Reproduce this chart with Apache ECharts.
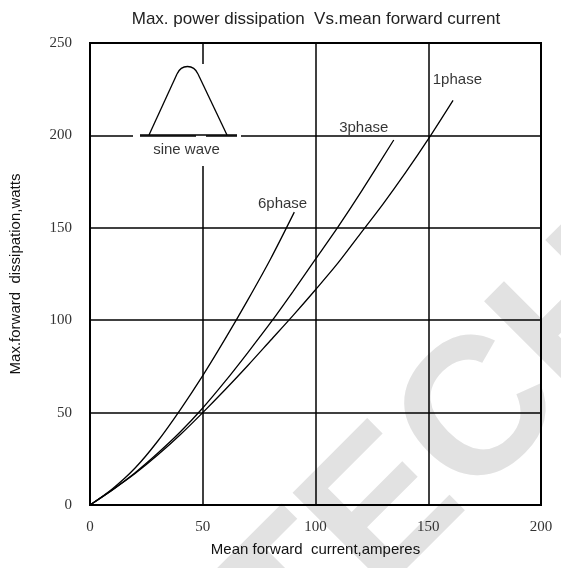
<!DOCTYPE html>
<html>
<head>
<meta charset="utf-8">
<script src="https://cdn.jsdelivr.net/npm/echarts@6/dist/echarts.min.js"></script>
<style>
  html, body { margin: 0; padding: 0; background: #fff; }
  #main { width: 561px; height: 568px; }
</style>
</head>
<body>
<div id="main"></div>
<script>
// curves: [current A, dissipation W]
var phase1 = [[0,0],[10,8.2],[20,17],[30,27],[40,38],[50,50],[60,62.5],[70,75.5],[80,89],[90,102.5],[100,116.5],[110,131],[120,147],[130,163],[140,180],[150,198],[161,219]];
var phase3 = [[0,0],[10,8.3],[20,17.5],[30,28],[40,39.5],[50,52.5],[60,67],[70,82.5],[80,98.5],[90,115.5],[100,133],[110,150.5],[120,169],[134.7,197.5]];
var phase6 = [[0,0],[10,8.8],[20,20],[30,34.5],[40,51.5],[50,70],[60,90],[70,111],[80,133],[90.6,158.5]];
// curve labels, [x at left edge, y at middle, text]
var curveLabels = [[152,230,'1phase'],[110.5,204,'3phase'],[74.5,163,'6phase']];
var sineLabel = [[42.8,192,'sine wave']];
var xTicks = [0, 50, 100, 150, 200];
var yTicks = [0, 50, 100, 150, 200, 250];

var chart = echarts.init(document.getElementById('main'));

var serif = "'Liberation Serif', 'DejaVu Serif', serif";
var sans = "'Liberation Sans', Arial, sans-serif";
var curveStyle = { color: '#000', width: 1.3 };

chart.setOption({
  animation: false,
  title: {
    text: 'Max. power dissipation  Vs.mean forward current',
    left: 311, top: 6, textAlign: 'center',
    textStyle: { fontFamily: sans, fontSize: 17, fontWeight: 'normal', color: '#222' }
  },
  grid: { left: 88, right: 20, top: 43, bottom: 63, show: true, borderColor: '#000', borderWidth: 2 },
  xAxis: {
    type: 'value', min: xTicks[0], max: xTicks[xTicks.length - 1], interval: 50,
    name: 'Mean forward  current,amperes', nameLocation: 'middle', nameGap: 37,
    nameTextStyle: { fontFamily: sans, fontSize: 15, color: '#111' },
    axisLine: { lineStyle: { color: '#000', width: 2 } },
    axisTick: { show: false },
    axisLabel: { margin: 15, fontFamily: serif, fontSize: 15, color: '#333' },
    splitLine: { lineStyle: { color: '#000', width: 1.5 } }
  },
  yAxis: {
    type: 'value', min: yTicks[0], max: yTicks[yTicks.length - 1], interval: 50,
    name: 'Max.forward  dissipation,watts', nameLocation: 'middle', nameGap: 67,
    nameTextStyle: { fontFamily: sans, fontSize: 15, color: '#111' },
    axisLine: { lineStyle: { color: '#000', width: 2 } },
    axisTick: { show: false },
    axisLabel: { margin: 18, fontFamily: serif, fontSize: 15, color: '#333' },
    splitLine: { lineStyle: { color: '#000', width: 1.5 } }
  },
  graphic: [
    // faint watermark behind the plot
    {
      type: 'text', z: -10, x: 325, y: 712, rotation: Math.PI / 4,
      style: { text: 'TECH', font: "bold 195px 'Liberation Sans'", fill: '#e2e2e2', textVerticalAlign: 'bottom' }
    },
    // gaps in the grid around the sine wave sketch
    { type: 'rect', z: 5, shape: { x: 133, y: 132, width: 7, height: 6 }, style: { fill: '#fff' } },
    { type: 'rect', z: 5, shape: { x: 237, y: 132, width: 4, height: 6 }, style: { fill: '#fff' } },
    { type: 'rect', z: 5, shape: { x: 196, y: 64, width: 10, height: 102 }, style: { fill: '#fff' } },
    { type: 'line', z: 6, shape: { x1: 140, y1: 135, x2: 237, y2: 135 }, style: { stroke: '#000', lineWidth: 1.5 } },
    { type: 'polyline', z: 6, shape: { points: [[149, 135], [177, 74]] }, style: { fill: null, stroke: '#000', lineWidth: 1.3 } },
    { type: 'polyline', z: 6, shape: { points: [[198, 74], [227, 135]] }, style: { fill: null, stroke: '#000', lineWidth: 1.3 } },
    {
      type: 'bezierCurve', z: 6,
      shape: { x1: 177, y1: 74, cpx1: 181.5, cpy1: 64, cpx2: 193.5, cpy2: 64, x2: 198, y2: 74 },
      style: { fill: null, stroke: '#000', lineWidth: 1.3 }
    }
  ],
  series: [
    { name: '1phase', type: 'line', data: phase1, smooth: 0.3, symbol: 'none', lineStyle: curveStyle, z: 3 },
    { name: '3phase', type: 'line', data: phase3, smooth: 0.3, symbol: 'none', lineStyle: curveStyle, z: 3 },
    { name: '6phase', type: 'line', data: phase6, smooth: 0.3, symbol: 'none', lineStyle: curveStyle, z: 3 },
    {
      type: 'scatter', data: curveLabels, symbolSize: 0, z: 10, silent: true,
      label: {
        show: true, position: 'inside', align: 'left',
        formatter: function (p) { return p.data[2]; },
        fontFamily: sans, fontSize: 15, color: '#000'
      }
    },
    {
      type: 'scatter', data: sineLabel, symbolSize: 0, z: 10, silent: true,
      label: {
        show: true, position: 'inside',
        formatter: function (p) { return p.data[2]; },
        fontFamily: sans, fontSize: 15, color: '#000'
      }
    }
  ]
});
</script>
</body>
</html>
